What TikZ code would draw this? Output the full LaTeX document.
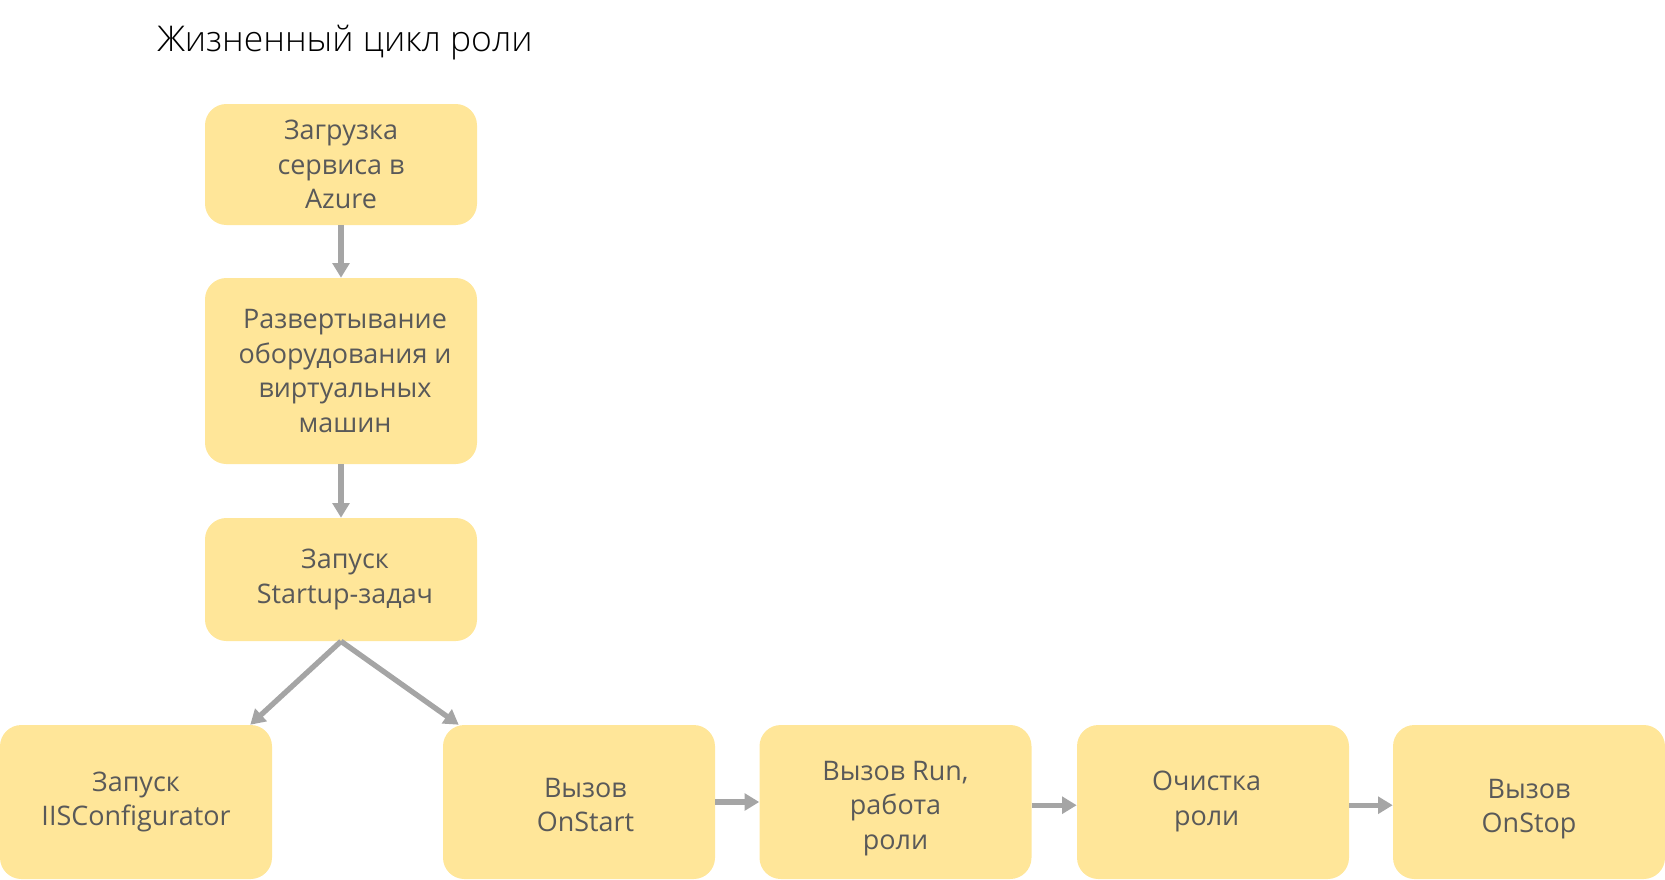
\documentclass[tikz,border=0pt]{standalone}
\usepackage{fontspec}
\setmainfont{Open Sans}
\IfFontExistsTF{Open Sans Light}{\newfontfamily\titlefont{Open Sans Light}}{%
  \IfFontExistsTF{Lato Light}{\newfontfamily\titlefont{Lato Light}}{\newfontfamily\titlefont{Open Sans}}}
\usetikzlibrary{arrows.meta,calc}
\definecolor{boxfill}{HTML}{FFE699}
\definecolor{textgray}{HTML}{595959}
\definecolor{arrowgray}{HTML}{A5A5A5}
\tikzset{
  stagebox/.style={rectangle, rounded corners=16pt, fill=boxfill, text=textgray,
    align=center, inner sep=0pt, minimum width=204pt,
    font=\fontsize{20.2pt}{25.9pt}\selectfont},
  stagetext/.style={text=textgray, align=center, inner sep=0pt,
    font=\fontsize{20.2pt}{25.9pt}\selectfont},
  flowarrow/.style={draw=arrowgray, line width=4pt,
    -{Triangle[length=11pt,width=12.5pt]}},
}
\begin{document}
\begin{tikzpicture}[x=0.75pt,y=-0.75pt]
\useasboundingbox (0,0) rectangle (1665,879);
\node[anchor=base west, font=\titlefont\fontsize{26.6pt}{32pt}\selectfont, text=black, inner sep=0pt] (title) at (157,51) {Жизненный цикл роли};
\node[stagebox, minimum height=90.75pt] (b1) at (341,164.5) {Загрузка\\сервиса в\\Azure};
\node[stagebox, minimum height=139.5pt] (b2) at (341,371) {\hspace*{6pt}Развертывание\\\hspace*{6pt}оборудования и\\\hspace*{6pt}виртуальных\\\hspace*{6pt}машин};
\node[stagebox, minimum height=92.25pt] (b3) at (341,579.5) {\hspace*{6pt}Запуск\\\hspace*{6pt}Startup-задач};
\node[stagebox, minimum height=115.5pt] (b4) at (136,802) {Запуск\\IISConfigurator};
\node[stagebox, minimum height=115.5pt,
  label={[stagetext,yshift=-2.4pt,xshift=4.8pt]center:{Вызов\\OnStart}}] (b5) at (579,802) {};
\node[stagebox, minimum height=115.5pt,
  label={[stagetext,yshift=-4.8pt]center:{Вызов Run,\\работа\\роли}}] (b6) at (895.5,802) {};
\node[stagebox, minimum height=115.5pt,
  label={[stagetext,yshift=0.6pt,xshift=-4.8pt]center:{Очистка\\роли}}] (b7) at (1213,802) {};
\node[stagebox, minimum height=115.5pt,
  label={[stagetext,yshift=-5.4pt]center:{Вызов\\OnStop}}] (b8) at (1529,802) {};
\coordinate (t4) at ($(b4.north east)+(-22,0)$);
\coordinate (t5) at ($(b5.north west)+(16,0)$);
\draw[flowarrow] (b1) -- (b2);
\draw[flowarrow] (b2) -- (b3);
\draw[flowarrow] (b3.south) -- (t4);
\draw[flowarrow] (b3.south) -- (t5);
\draw[flowarrow] (b5) -- (b6);
\draw[flowarrow] ([yshift=-2.4pt]b6.east) -- ([yshift=-2.4pt]b7.west);
\draw[flowarrow] ([yshift=-2.4pt]b7.east) -- ([yshift=-2.4pt]b8.west);
\end{tikzpicture}
\end{document}
